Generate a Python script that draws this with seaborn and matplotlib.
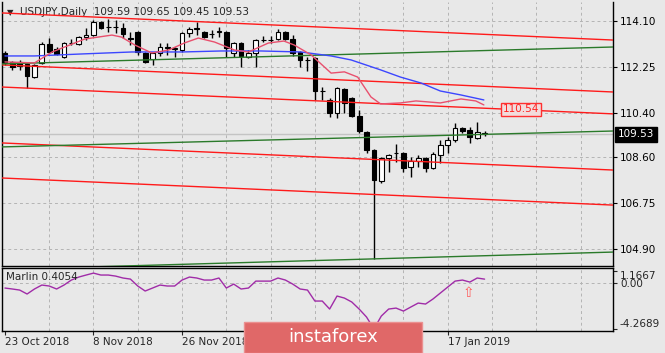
import numpy as np
import matplotlib
matplotlib.use("Agg")
import matplotlib.pyplot as plt
import matplotlib.transforms as mtransforms
from matplotlib.patches import Rectangle
import seaborn as sns

# ---------------- data ----------------
opens = [112.80, 112.44, 112.44, 112.36, 111.83, 112.40, 113.16, 112.96, 112.64, 113.20,
         113.16, 113.44, 113.53, 114.05, 113.86, 113.84, 113.81, 113.40, 113.65, 112.80,
         112.56, 112.80, 113.00, 112.96, 112.92, 113.61, 113.77, 113.65, 113.57, 113.65,
         113.65, 112.80, 113.20, 112.64, 112.80, 113.34, 113.32, 113.36, 113.65, 113.36,
         112.84, 112.52, 112.60, 111.27, 110.91, 110.39, 111.35, 110.99, 110.26, 109.62,
         108.90, 107.65, 108.58, 108.76, 108.78, 108.21, 108.45, 108.58, 108.17, 108.70,
         109.10, 109.30, 109.78, 109.70, 109.38, 109.59]
highs = [112.88, 112.48, 112.52, 112.40, 112.36, 113.24, 113.40, 113.04, 113.24, 113.36,
         113.48, 113.81, 114.13, 114.09, 114.17, 114.13, 114.01, 113.65, 113.69, 112.84,
         112.84, 113.20, 113.20, 113.04, 113.65, 113.85, 114.05, 113.69, 113.73, 113.85,
         113.69, 113.24, 113.24, 112.92, 113.36, 113.48, 113.48, 113.77, 113.69, 113.53,
         112.88, 112.64, 112.64, 111.43, 110.99, 111.43, 111.39, 111.03, 110.51, 109.66,
         108.94, 108.62, 108.74, 109.14, 108.82, 108.62, 108.70, 108.62, 108.82, 109.30,
         109.42, 109.98, 109.82, 109.82, 110.02, 109.65]
lows = [112.32, 112.12, 112.12, 111.39, 111.79, 112.36, 112.80, 112.72, 112.60, 113.12,
        113.12, 113.32, 113.48, 113.77, 113.65, 113.61, 113.40, 113.12, 112.72, 112.40,
        112.32, 112.68, 112.72, 112.64, 112.84, 113.44, 113.53, 113.40, 113.40, 113.44,
        112.64, 112.64, 112.24, 112.60, 112.24, 113.24, 113.20, 113.32, 113.32, 112.68,
        112.24, 112.08, 110.91, 110.91, 110.22, 110.18, 110.39, 110.22, 109.58, 108.78,
        104.50, 107.57, 108.01, 108.41, 108.01, 107.81, 108.21, 108.01, 108.13, 108.37,
        108.78, 109.22, 109.58, 109.18, 109.34, 109.45]
closes = [112.40, 112.24, 112.28, 111.88, 112.32, 113.16, 112.84, 112.76, 113.20, 113.22,
          113.44, 113.53, 114.05, 113.81, 113.84, 113.86, 113.57, 113.38, 112.84, 112.44,
          112.80, 113.04, 113.02, 112.98, 113.61, 113.77, 113.79, 113.44, 113.55, 113.67,
          113.00, 113.20, 112.68, 112.80, 113.32, 113.32, 113.34, 113.65, 113.36, 112.80,
          112.52, 112.50, 111.27, 111.25, 110.39, 111.39, 110.79, 110.26, 109.66, 108.90,
          107.69, 108.58, 108.70, 108.78, 108.17, 108.45, 108.58, 108.17, 108.74, 109.10,
          109.30, 109.78, 109.66, 109.42, 109.62, 109.53]

fast_ma_idx = [0, 4, 6.4, 10.8, 14.5, 15.8, 17.6, 19.9, 22.2, 24.3, 26.2, 28.4, 31.1, 33,
               35.7, 37.8, 39.2, 41.5, 44.2, 46, 47.8, 49.6, 50.9, 53.6, 55.7, 59, 61.8, 63.8, 64.9]
fast_ma_val = [112.44, 112.40, 112.84, 113.36, 113.52, 113.44, 113.12, 112.80, 112.92, 113.20,
               113.40, 113.24, 112.92, 112.84, 113.20, 113.28, 113.12, 112.72, 111.99, 112.04,
               111.83, 111.03, 110.75, 110.79, 110.87, 110.79, 110.95, 110.87, 110.71]
slow_ma_idx = [0, 4, 10.4, 17.2, 24, 29.3, 34.7, 40.1, 44.2, 46.9, 50.9, 53.6, 56.4, 59, 61.8, 64.9]
slow_ma_val = [112.68, 112.68, 112.76, 112.84, 112.84, 112.88, 112.88, 112.84, 112.68, 112.52,
               112.12, 111.83, 111.59, 111.27, 111.11, 110.91]

marlin = [-0.43, -0.52, -0.62, -0.99, -0.52, -0.15, -0.24, -0.52, -0.15, 0.32,
          0.60, 0.79, 0.97, 0.79, 0.79, 0.69, 0.51, 0.41, -0.24, -0.71,
          -0.43, -0.15, -0.24, -0.24, 0.32, 0.60, 0.51, 0.32, 0.32, 0.51,
          -0.43, -0.06, -0.52, -0.43, 0.22, 0.22, 0.22, 0.51, 0.32, -0.06,
          -0.52, -0.62, -1.65, -1.65, -2.40, -1.18, -1.37, -1.74, -2.40, -3.15,
          -4.27, -3.06, -2.40, -2.31, -2.59, -2.21, -1.84, -1.93, -1.46, -0.90,
          -0.34, 0.22, 0.32, 0.13, 0.51, 0.4054]

line_x = [-0.4, 82.4]
red_start = [114.41, 112.32, 111.43, 109.18, 107.77]
red_end = [113.32, 111.23, 110.35, 108.09, 106.68]
green_start = [112.36, 109.02, 104.09]
green_end = [113.04, 109.66, 104.79]

# labels at 12 Dec / 31 Dec sit under the instaforex badge in the original
date_idx = [0, 12, 24, 36, 48, 60]
date_labels = ['23 Oct 2018', '8 Nov 2018', '26 Nov 2018', '', '', '17 Jan 2019']
price_ticks = [114.10, 112.25, 110.40, 108.60, 106.75, 104.90]
marlin_ticks = [1.1667, 0.0, -4.2689]
marlin_tick_labels = ['1.1667', '0.00', '-4.2689']

# ---------------- style ----------------
sns.set_style("ticks")
bg = '#e8e8e8'
plt.rcParams['font.family'] = ['DejaVu Sans']
plt.rcParams['font.size'] = 7.5

fig = plt.figure(figsize=(6.65, 3.53), dpi=100, facecolor=bg)
ax = fig.add_axes([0.003, 0.2465, 0.9188, 0.7478], facecolor=bg)
axm = fig.add_axes([0.003, 0.0623, 0.9188, 0.1785], facecolor=bg, sharex=ax)

grid_kw = dict(color='#b4b4b4', lw=0.7, ls=(0, (3, 3)), zorder=0)
for gx in range(6, 83, 6):
    ax.axvline(gx, **grid_kw)
    axm.axvline(gx, **grid_kw)
for gy in price_ticks:
    ax.axhline(gy, **grid_kw)
axm.axhline(0, **grid_kw)

# current price line
ax.axhline(closes[-1], color='#c4c4c4', lw=1, zorder=1)

# candles
o = np.array(opens); c = np.array(closes)
x = np.arange(len(o))
ax.vlines(x, lows, highs, color='black', lw=1, zorder=3)
body_bot = np.minimum(o, c)
body_h = np.maximum(np.abs(c - o), 0.015)
body_col = np.where(c >= o, 'white', 'black')
ax.bar(x, body_h, bottom=body_bot, width=0.64, color=body_col,
       edgecolor='black', linewidth=0.8, zorder=4)

# trend lines
for ys, ye in zip(red_start, red_end):
    ax.plot(line_x, [ys, ye], color='#ff1a1a', lw=1, zorder=5)
for ys, ye in zip(green_start, green_end):
    ax.plot(line_x, [ys, ye], color='#2a7a2a', lw=1, zorder=5)

# moving averages
sns.lineplot(x=slow_ma_idx, y=slow_ma_val, ax=ax, color='#3c46ff', lw=1, zorder=6)
sns.lineplot(x=fast_ma_idx, y=fast_ma_val, ax=ax, color='#e8506e', lw=1, zorder=6)

ax.set_xlim(-0.4, 82.4)
ax.set_ylim(104.23, 114.85)
ax.yaxis.tick_right()
ax.set_yticks(price_ticks, labels=[f'{v:.2f}' for v in price_ticks])
ax.tick_params(axis='y', length=3, pad=2, labelsize=7.5, colors='black')
ax.tick_params(axis='x', length=0, labelbottom=False)
ax.set_xlabel(''); ax.set_ylabel('')
for s in ['left', 'right', 'bottom']:
    ax.spines[s].set_color('black'); ax.spines[s].set_linewidth(1)
ax.spines['top'].set_visible(False)

# header and labels
ax.text(0.013, 0.962, '\u25BC', transform=ax.transAxes, fontsize=6, ha='center', va='center')
ax.text(0.0295, 0.962, 'USDJPY,Daily  109.59 109.65 109.45 109.53', transform=ax.transAxes,
        fontsize=7.5, ha='left', va='center')
ax.text(69.9, 110.53, '110.54', color='#ff2020', fontsize=7.5, ha='center', va='center', zorder=7,
        bbox=dict(facecolor='#f2dcdc', edgecolor='#ff3030', boxstyle='square,pad=0.15', lw=1))
trans = mtransforms.blended_transform_factory(ax.transAxes, ax.transData)
ax.text(1.008, closes[-1], '109.53', transform=trans, color='white', fontsize=7.5,
        ha='left', va='center', zorder=8, clip_on=False,
        bbox=dict(facecolor='black', edgecolor='black', boxstyle='square,pad=0.25'))

# Marlin indicator
sns.lineplot(x=x, y=marlin, ax=axm, color='#a02ca8', lw=1, zorder=3)
axm.set_ylim(-4.46, 1.45)
axm.yaxis.tick_right()
axm.set_yticks(marlin_ticks, labels=marlin_tick_labels)
lbls = axm.get_yticklabels()
lbls[0].set_va('top'); lbls[2].set_va('bottom')
axm.tick_params(axis='y', length=3, pad=2, labelsize=7.5)
axm.set_xticks(date_idx, labels=date_labels)
for t in axm.get_xticklabels():
    t.set_ha('left')
axm.tick_params(axis='x', length=3, pad=1, labelsize=7.5)
axm.set_xlabel(''); axm.set_ylabel('')
for s in axm.spines.values():
    s.set_color('black'); s.set_linewidth(1)
axm.text(0.0065, 0.86, 'Marlin 0.4054', transform=axm.transAxes, fontsize=7.5, ha='left', va='center')
axm.text(62.8, -0.85, '\u21E7', color='#ff5a5a', fontsize=10, ha='center', va='center')

# watermark
fig.add_artist(Rectangle((244 / 665, 0), 178 / 665, 31 / 353, transform=fig.transFigure,
                         facecolor='#e06868', edgecolor='#eb9090', lw=1, zorder=10))
fig.text(333 / 665, 0.045, 'instaforex', color='white', fontsize=13, ha='center', va='center', zorder=11)

fig.savefig('out.png', dpi=100, facecolor=bg)
